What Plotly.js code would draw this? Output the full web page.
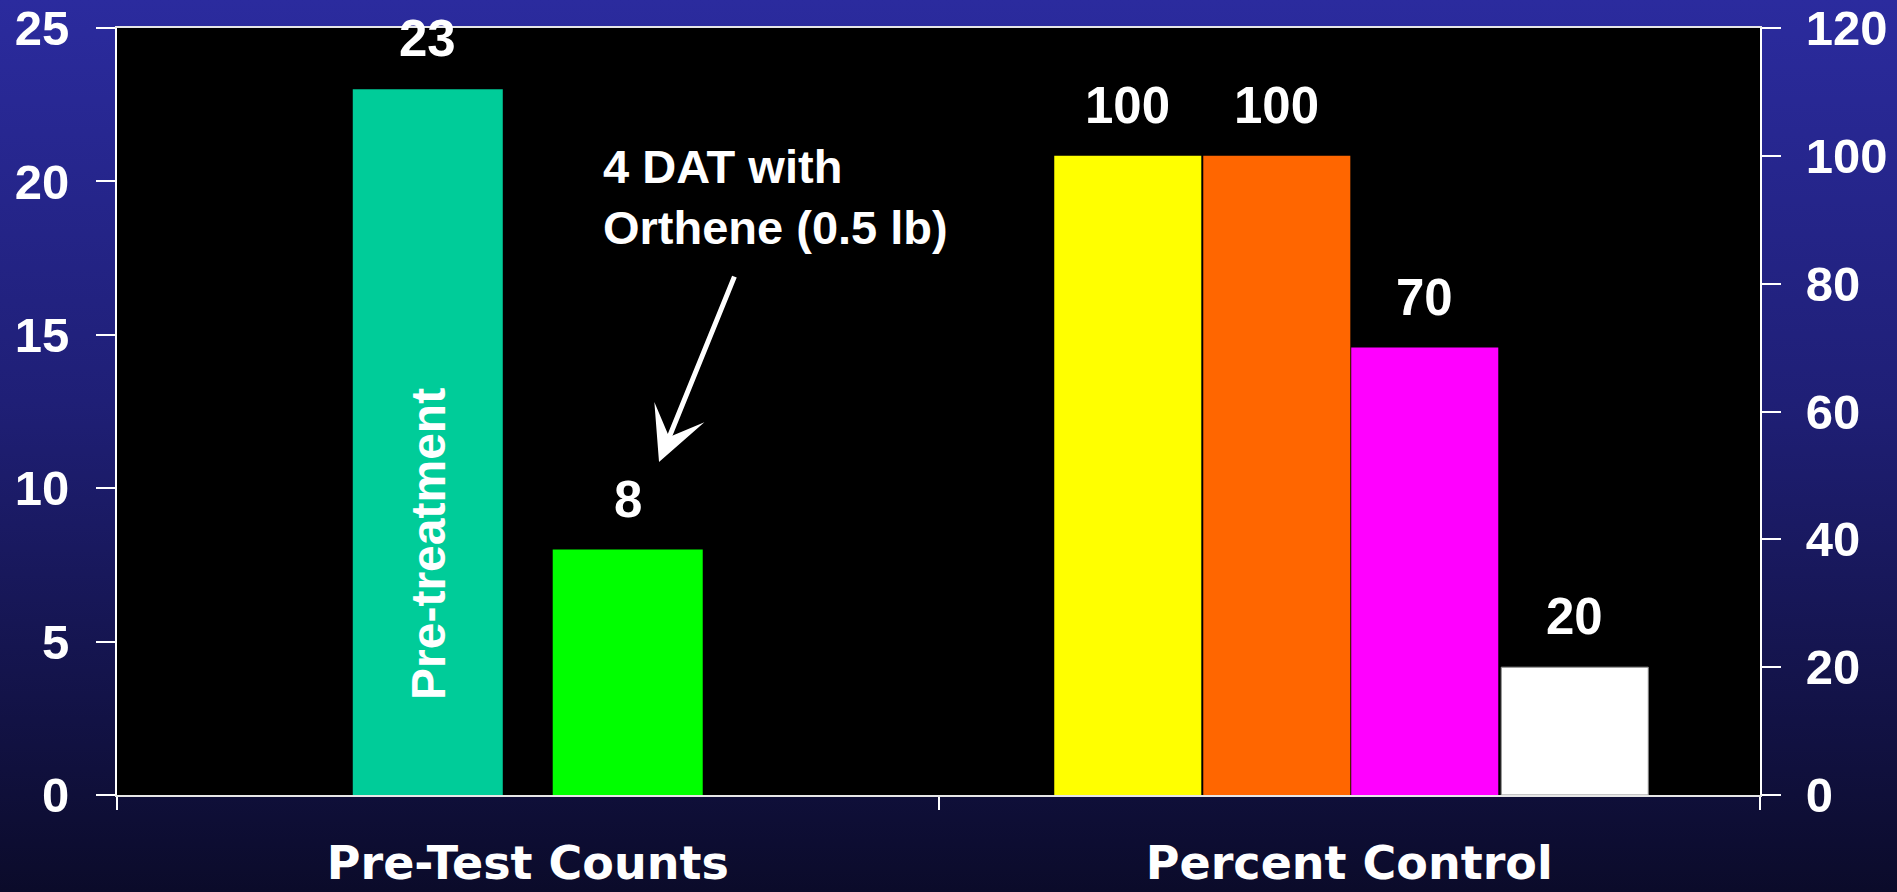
<!DOCTYPE html>
<html><head><meta charset="utf-8">
<script src="https://cdn.plot.ly/plotly-3.0.1.min.js"></script>
<style>
html,body{margin:0;padding:0;width:1897px;height:892px;overflow:hidden;
background:linear-gradient(to bottom,#2b2b9e 0%,#1f1f76 45%,#0b0b2a 100%);}
#chart{width:1897px;height:892px;}
</style></head><body><div id="chart"></div>
<script>
// ---- data ----
const categories = ['Pre-Test Counts', 'Percent Control'];
const countNames = ['Pre-treatment', '4 DAT with Orthene (0.5 lb)'];
const countValues = [23, 8];
const percentNames = ['Treatment 1', 'Treatment 2', 'Treatment 3', 'Treatment 4'];
const percentValues = [100, 100, 70, 20];
const leftTicks = [0, 5, 10, 15, 20, 25];
const rightTicks = [0, 20, 40, 60, 80, 100, 120];
const arrowNote = '4 DAT with<br>Orthene (0.5 lb)';
const insideLabel = 'Pre-treatment';

// ---- styles ----
const countColors = ['#00CC99', '#00FF00'];
const countOffsets = [-0.213, 0.0304];
const countWidth = 0.1826;
const percentColors = ['#FFFF00', '#FF6600', '#FF00FF', '#FFFFFF'];
const percentOffsets = [-0.3591, -0.1777, 0.0024, 0.1850];
const percentWidth = 0.179;
const boldFont = 'Liberation Sans, Arial, sans-serif';
const wideFont = 'DejaVu Sans, Verdana, sans-serif';

const traces = [];
const annotations = [];
countValues.forEach((v, i) => {
  traces.push({
    type: 'bar', name: countNames[i], x: [categories[0]], y: [v],
    width: [countWidth], offset: [countOffsets[i]],
    marker: {color: countColors[i], line: {width: 0}},
    xaxis: 'x', yaxis: 'y', hoverinfo: 'y'
  });
  annotations.push({
    xref: 'x', yref: 'y', x: 0 + countOffsets[i] + countWidth / 2, y: v,
    text: String(v), showarrow: false, yanchor: 'bottom', yshift: 20,
    font: {family: boldFont, size: 51, color: '#fff', weight: 'bold'}
  });
});
percentValues.forEach((v, i) => {
  traces.push({
    type: 'bar', name: percentNames[i], x: [categories[1]], y: [v],
    width: [percentWidth], offset: [percentOffsets[i]],
    marker: {color: percentColors[i], line: {width: i === 3 ? 1 : 0, color: '#8a8a8a'}},
    xaxis: 'x', yaxis: 'y2', hoverinfo: 'y'
  });
  annotations.push({
    xref: 'x', yref: 'y2', x: 1 + percentOffsets[i] + percentWidth / 2, y: v,
    text: String(v), showarrow: false, yanchor: 'bottom', yshift: 20,
    font: {family: boldFont, size: 51, color: '#fff', weight: 'bold'}
  });
});

// vertical label inside the first bar
annotations.push({
  xref: 'x', yref: 'paper', x: 0 + countOffsets[0] + countWidth / 2, y: 0.327,
  xanchor: 'center', yanchor: 'middle',
  text: insideLabel, textangle: -90, showarrow: false,
  font: {family: boldFont, size: 48, color: '#fff', weight: 'bold'}
});
// note text
annotations.push({
  xref: 'paper', yref: 'paper', x: 0.2946, y: 0.8566, xanchor: 'left', yanchor: 'top',
  align: 'left', text: arrowNote, showarrow: false,
  font: {family: boldFont, size: 47, color: '#fff', weight: 'bold'}
});
// arrow
annotations.push({
  xref: 'paper', yref: 'paper', x: 0.3299, y: 0.434, text: '',
  showarrow: true, ax: 76, ay: -187, arrowcolor: '#fff', arrowwidth: 5,
  arrowhead: 3, arrowsize: 1.8, standoff: 0, startstandoff: 0
});

const axisCommon = {
  showgrid: false, zeroline: false, showline: true, linecolor: '#fff', linewidth: 2,
  tickcolor: '#fff', tickwidth: 2
};

const layout = {
  width: 1897, height: 892,
  margin: {l: 117, r: 137, t: 28, b: 97, pad: 0},
  paper_bgcolor: 'rgba(0,0,0,0)', plot_bgcolor: '#000',
  showlegend: false, barmode: 'overlay',
  xaxis: Object.assign({}, axisCommon, {
    type: 'category', categoryarray: categories, categoryorder: 'array',
    range: [-0.5, 1.5], tickson: 'boundaries', ticks: 'outside', ticklen: 13,
    mirror: true, linecolor: '#e6e6e6',
    tickfont: {family: wideFont, size: 46, color: '#fff', weight: 'bold'},
    ticklabelstandoff: 27
  }),
  yaxis: Object.assign({}, axisCommon, {
    range: [0, 25], tickmode: 'array', tickvals: leftTicks, ticktext: leftTicks.map(String),
    ticks: 'outside', ticklen: 19,
    tickfont: {family: boldFont, size: 49, color: '#fff', weight: 'bold'},
    ticklabelstandoff: 17
  }),
  yaxis2: Object.assign({}, axisCommon, {
    overlaying: 'y', side: 'right', anchor: 'x',
    range: [0, 120], tickmode: 'array', tickvals: rightTicks, ticktext: rightTicks.map(String),
    ticks: 'outside', ticklen: 19,
    tickfont: {family: boldFont, size: 49, color: '#fff', weight: 'bold'},
    ticklabelstandoff: 15
  }),
  yaxis3: {
    overlaying: 'y', side: 'right', anchor: 'x',
    range: [0, 120], tickmode: 'array', tickvals: rightTicks,
    ticks: 'inside', ticklen: 18, tickwidth: 2, tickcolor: '#fff',
    showticklabels: false, showline: false, showgrid: false, zeroline: false
  },
  annotations: annotations
};

Plotly.newPlot('chart', traces, layout, {displayModeBar: false, staticPlot: true});
</script></body></html>
